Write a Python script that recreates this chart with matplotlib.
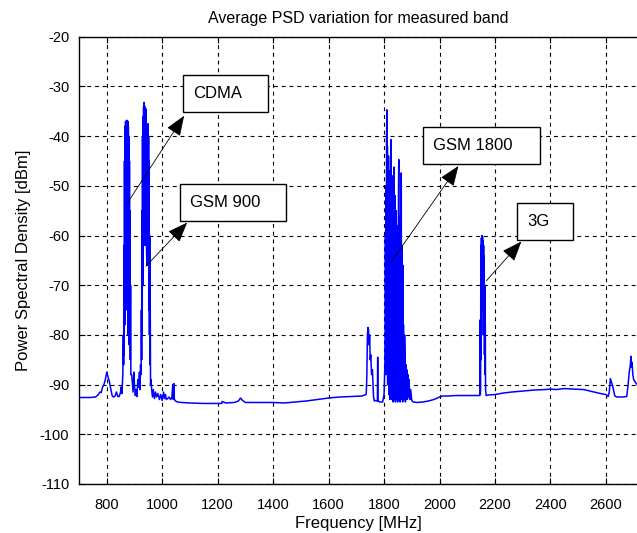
import numpy as np
import matplotlib
matplotlib.use("Agg")
import matplotlib.pyplot as plt
from matplotlib.patches import Rectangle

# spectrum, piece by piece (MHz, dBm)
low_f = [700, 720, 740, 760, 770, 775, 780, 785, 790, 795, 800, 805, 810, 815,
         820, 825, 830, 835, 840, 845, 850, 852, 855, 858]
low_p = [-92.6, -92.6, -92.6, -92.5, -92.0, -91.5, -91.6, -90.5, -90.0, -89.0,
         -87.5, -88.5, -89.5, -91.0, -92.3, -92.5, -92.3, -91.5, -92.4, -92.4,
         -91.5, -90.5, -91.8, -88.0]

cdma_f = [860, 861, 862, 863, 864, 865, 866, 867, 868, 869, 870, 871, 872, 873,
          874, 875, 876, 877, 878, 879, 880, 881, 882, 883, 884, 885, 886, 887]
cdma_p = [-80, -86, -62, -84, -45, -78, -38, -70, -37, -75, -37.2, -60, -36.8,
          -72, -37.5, -55, -37, -80, -38, -66, -40, -82, -45, -78, -55, -85,
          -70, -88]

gap_f = [890, 893, 895, 898, 900, 903, 906, 909, 912, 915, 918, 920, 922]
gap_p = [-88, -90, -91.5, -87.5, -90, -92.2, -91, -92.4, -89, -90.5, -87.5,
         -91, -86]

gsm900_f = [924, 925, 926, 927, 928, 929, 930, 931, 932, 933, 934, 935, 936,
            937, 938, 939, 940, 941, 942, 943, 944, 945, 946, 947, 948, 949,
            950, 951, 952, 953, 954, 955, 956, 957, 958]
gsm900_p = [-88, -75, -85, -55, -80, -40, -70, -36, -60, -34, -58, -33.2, -50,
            -34, -62, -35, -55, -34.5, -60, -38, -64, -40, -66, -38, -64,
            -37.5, -62, -40, -75, -45, -80, -60, -86, -75, -90]

mid_f = [960, 962, 965, 968, 972, 976, 980, 985, 990, 995, 1000, 1005, 1008,
         1012, 1015, 1020, 1025, 1030, 1035, 1038, 1040, 1042, 1044, 1048,
         1055, 1070, 1100, 1150, 1200, 1215, 1216, 1230, 1260, 1275, 1282,
         1290, 1300, 1350, 1400, 1440, 1480, 1520, 1560, 1600, 1640, 1680,
         1720, 1735]
mid_p = [-89, -91, -92.5, -91, -92.8, -91.5, -92.5, -91.8, -93, -92, -93.2,
         -91.5, -92.8, -92, -93, -92.8, -92.5, -93, -92.6, -90, -93, -89.8,
         -93, -93.3, -93.5, -93.6, -93.7, -93.8, -93.8, -93.8, -93.4, -93.7,
         -93.6, -93.3, -92.7, -93.2, -93.6, -93.6, -93.6, -93.7, -93.5, -93.3,
         -93.0, -92.7, -92.5, -92.4, -92.3, -92.0]

pre_f = [1736, 1738, 1740, 1742, 1744, 1746, 1748, 1750, 1752, 1755, 1758,
         1762, 1765, 1770, 1776, 1777, 1778, 1785, 1795, 1800, 1803]
pre_p = [-91.5, -88, -80, -78.5, -79, -82, -80, -85, -84, -88, -87, -92.5,
         -93.3, -93.2, -93.3, -84.5, -93.3, -93.5, -93.5, -92, -86]

gsm1800_f = list(range(1804, 1875)) + [1876, 1877, 1879, 1880, 1882, 1884,
                                       1886, 1888, 1890, 1893, 1896, 1900]
gsm1800_p = [-80, -60, -85, -50, -88, -40, -34.7, -75, -42, -90, -48, -86,
             -44, -92, -52, -88, -47, -93, -55, -90, -45, -40.7, -92, -50,
             -93, -56, -89, -48, -93.5, -58, -90, -50, -46.2, -93, -60, -91,
             -52, -93.5, -62, -90, -55, -93, -65, -92, -58, -93.5, -66, -91,
             -52, -44.7, -93, -60, -92, -68, -93.5, -56, -90, -50, -47.4, -93,
             -62, -92, -70, -93.5, -66, -91, -78, -93, -84, -92, -80,
             -85, -93.5, -86, -92, -87, -93, -88, -92.5, -89, -93, -91, -93.2]

mid2_f = [1905, 1920, 1940, 1960, 1980, 2000, 2010, 2030, 2060, 2100, 2140, 2145]
mid2_p = [-93.5, -93.6, -93.5, -93.3, -93.0, -92.5, -92.3, -92.3, -92.2, -92.2,
          -92.2, -92.2]

g3_f = [2146, 2147, 2148, 2149, 2150, 2151, 2152, 2153, 2154, 2155, 2156,
        2157, 2158, 2159, 2160, 2161, 2162, 2163, 2164, 2165, 2166, 2168]
g3_p = [-77, -92, -90.5, -62, -85, -60.5, -80, -60, -70, -60.2, -75, -61, -66,
        -62, -80, -64, -84, -70, -88, -78, -91, -92.2]

high_f = [2175, 2200, 2230, 2260, 2300, 2340, 2380, 2400, 2420, 2450, 2480,
          2520, 2550, 2580, 2600, 2608, 2612, 2616, 2620, 2624, 2628, 2632,
          2640, 2660, 2675, 2680, 2684, 2688, 2690, 2692, 2694, 2697, 2700,
          2706, 2712]
high_p = [-92.1, -92.0, -91.7, -91.5, -91.3, -91.1, -91.0, -90.9, -91.0,
          -90.8, -90.9, -91.0, -91.4, -91.8, -92.0, -92.4, -91.5, -88.8, -89.5,
          -90.2, -91.2, -92.3, -92.5, -92.5, -92.4, -90, -87.5, -86, -84.3,
          -86.5, -85.5, -88, -89, -89.5, -90]

freq = np.array(low_f + cdma_f + gap_f + gsm900_f + mid_f + pre_f + gsm1800_f
                + mid2_f + g3_f + high_f, dtype=float)
psd = np.array(low_p + cdma_p + gap_p + gsm900_p + mid_p + pre_p + gsm1800_p
               + mid2_p + g3_p + high_p, dtype=float)

# labelled boxes: text, box (f0, f1, p_bottom, p_top), arrow tail, arrow head
labels = ["CDMA", "GSM 900", "GSM 1800", "3G"]
boxes = [(1076, 1382, -35.1, -27.6), (1065, 1447, -57.0, -49.6),
         (1942, 2361, -45.6, -38.1), (2281, 2483, -60.8, -53.4)]
tails = [(873, -53.6), (941, -66.2), (1823, -65.5), (2169, -69.1)]
heads = [(1079, -35.9), (1090, -57.4), (2068, -46.0), (2295, -61.2)]

plt.rcParams["font.family"] = ["Liberation Sans", "DejaVu Sans"]
plt.rcParams["axes.unicode_minus"] = False

fig = plt.figure(figsize=(6.37, 5.33), dpi=100)
ax = fig.add_axes([0.124, 0.092, 0.876, 0.839])

ax.plot(freq, psd, color="#0000ff", lw=1.1, zorder=3)

ax.set_xlim(700, 2712)
ax.set_ylim(-110, -20)
ax.set_xticks(np.arange(800, 2700, 200))
ax.set_yticks(np.arange(-110, -19, 10))
ax.tick_params(direction="in", length=4, labelsize=10.5, top=True, right=False)
ax.tick_params(axis="x", pad=10)
ax.tick_params(axis="y", pad=7)
ax.grid(True, color="black", linestyle=(0, (3.5, 3.5)), lw=0.8)
ax.spines["right"].set_visible(False)
for s in ["left", "top", "bottom"]:
    ax.spines[s].set_linewidth(1.0)

ax.set_title("Average PSD variation for measured band", fontsize=11.5, pad=10)
ax.set_xlabel("Frequency [MHz]", fontsize=12, labelpad=3)
ax.set_ylabel("Power Spectral Density [dBm]", fontsize=12, labelpad=6)

for txt, b, t, h in zip(labels, boxes, tails, heads):
    f0, f1, p0, p1 = b
    ax.add_patch(Rectangle((f0, p0), f1 - f0, p1 - p0, facecolor="white",
                           edgecolor="black", lw=1.0, zorder=5))
    ax.text(f0 + 35, (p0 + p1) / 2, txt, fontsize=12, va="center", ha="left",
            zorder=6)
    ax.annotate("", xy=h, xytext=t, zorder=6,
                arrowprops=dict(arrowstyle="-|>,head_length=0.9,head_width=0.35",
                                color="black", lw=0.6, shrinkA=0, shrinkB=0,
                                mutation_scale=14))

fig.savefig("out.png", dpi=100)
